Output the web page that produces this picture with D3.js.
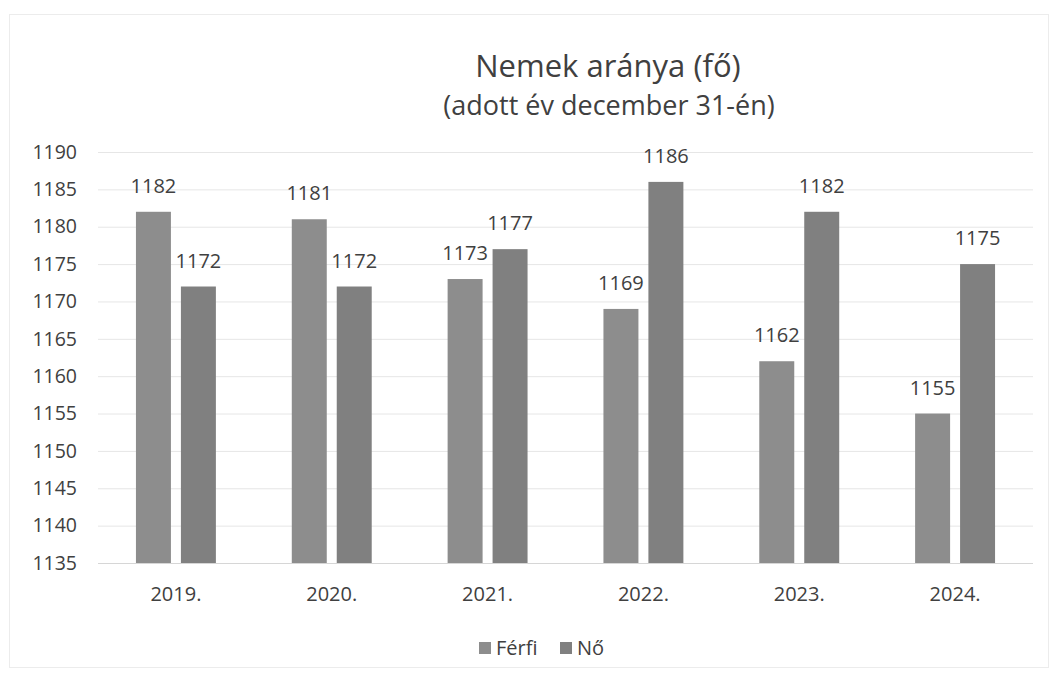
<!DOCTYPE html>
<html>
<head>
  <meta charset="utf-8">
  <title>Nemek aránya</title>
  <script src="https://cdn.jsdelivr.net/npm/d3@7"></script>
  <style>
    body { margin: 0; background: #fff; }
    text { font-family: "Open Sans", sans-serif; fill: #404040; }
  </style>
</head>
<body>
<script>
  const years = ["2019.", "2020.", "2021.", "2022.", "2023.", "2024."];
  const series = ["Férfi", "Nő"];
  const ferfi = [1182, 1181, 1173, 1169, 1162, 1155];
  const no = [1172, 1172, 1177, 1186, 1182, 1175];
  const yTicks = [1135, 1140, 1145, 1150, 1155, 1160, 1165, 1170, 1175, 1180, 1185, 1190];
  const colors = ["#8d8d8d", "#808080"];

  const width = 1051, height = 681;
  const margin = {top: 152, right: 18, bottom: 118, left: 98};

  const svg = d3.select("body").append("svg")
    .attr("width", width)
    .attr("height", height);

  // faint frame round the chart area
  svg.append("rect")
    .attr("x", 9.5).attr("y", 14.5)
    .attr("width", width - 12).attr("height", height - 28)
    .attr("fill", "none")
    .attr("stroke", "#ececec");

  const x = d3.scaleBand()
    .domain(years)
    .range([margin.left, width - margin.right]);

  const xInner = d3.scaleBand()
    .domain(series)
    .range([0, x.bandwidth()])
    .paddingInner(0.222)
    .paddingOuter(0.844);

  const y = d3.scaleLinear()
    .domain([1135, 1190])
    .range([height - margin.bottom, margin.top]);

  // gridlines + y labels
  const yAxis = g => g
    .attr("transform", `translate(${margin.left},0)`)
    .call(d3.axisLeft(y).tickValues(yTicks).tickFormat(d3.format("d")).tickSize(0).tickPadding(21))
    .call(g => g.select(".domain").remove())
    .call(g => g.selectAll(".tick text").style("font-size", "19.5px").attr("fill", "#404040"))
    .call(g => g.selectAll(".tick line").clone()
      .attr("x2", width - margin.right - margin.left)
      .attr("stroke", d => d === 1135 ? "#d6d6d6" : "#e6e6e6"));

  svg.append("g").call(yAxis);

  const xAxis = g => g
    .attr("transform", `translate(0,${height - margin.bottom})`)
    .call(d3.axisBottom(x).tickSize(0).tickPadding(24))
    .call(g => g.select(".domain").remove())
    .call(g => g.selectAll(".tick text").style("font-size", "20px").attr("fill", "#404040"));

  svg.append("g").call(xAxis);

  const rows = years.map((yr, i) => ({year: yr, values: [ferfi[i], no[i]]}));

  const groups = svg.append("g")
    .selectAll("g")
    .data(rows)
    .join("g")
      .attr("transform", d => `translate(${x(d.year)},0)`);

  groups.selectAll("rect")
    .data(d => d.values.map((v, j) => ({key: series[j], value: v})))
    .join("rect")
      .attr("x", d => xInner(d.key))
      .attr("width", xInner.bandwidth())
      .attr("y", d => y(d.value))
      .attr("height", d => y(1135) - y(d.value))
      .attr("fill", (d, j) => colors[j]);

  groups.selectAll(".lbl")
    .data(d => d.values.map((v, j) => ({key: series[j], value: v})))
    .join("text")
      .attr("class", "lbl")
      .attr("x", d => xInner(d.key) + xInner.bandwidth() / 2)
      .attr("y", d => y(d.value) - 19)
      .attr("text-anchor", "middle")
      .style("font-size", "20px")
      .text(d => d.value);

  // title
  svg.append("text")
    .attr("x", 608).attr("y", 77)
    .attr("text-anchor", "middle")
    .style("font-size", "31px")
    .text("Nemek aránya (fő)");

  svg.append("text")
    .attr("x", 609).attr("y", 115)
    .attr("text-anchor", "middle")
    .style("font-size", "27px")
    .text("(adott év december 31-én)");

  // legend
  const legend = svg.append("g")
    .attr("transform", `translate(0,648)`);
  const items = [{name: "Férfi", x: 479}, {name: "Nő", x: 560}];
  items.forEach((it, i) => {
    legend.append("rect")
      .attr("x", it.x).attr("y", -6)
      .attr("width", 12).attr("height", 12)
      .attr("fill", colors[i]);
    legend.append("text")
      .attr("x", it.x + 17).attr("y", 7)
      .style("font-size", "20px")
      .text(it.name);
  });
</script>
</body>
</html>
